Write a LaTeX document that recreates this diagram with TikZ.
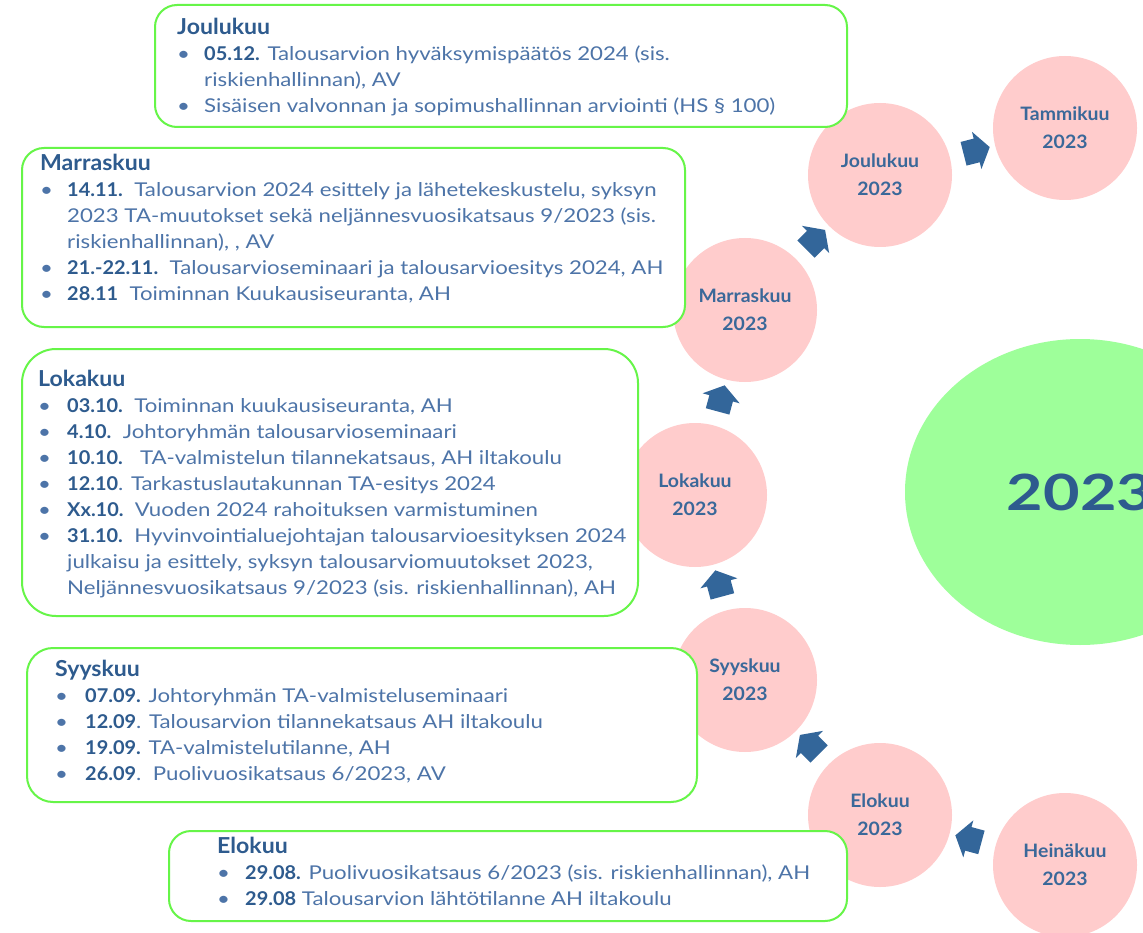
\documentclass[tikz,border=0pt]{standalone}
\usepackage{fontspec}
\setmainfont[FakeStretch=1.17, BoldFeatures={FakeStretch=1.05}]{Lato}
\usetikzlibrary{shapes.geometric,shapes.arrows}
\definecolor{pinkc}{HTML}{FFCCCC}
\definecolor{biggreen}{HTML}{9EFF9A}
\definecolor{boxgreen}{HTML}{66F548}
\definecolor{arrowc}{HTML}{33669A}
\definecolor{headc}{HTML}{2E5B8E}
\definecolor{bodyc}{HTML}{4D74A8}
\definecolor{circtext}{HTML}{3A6899}
\newcommand{\hd}[1]{\multicolumn{2}{@{}l@{}}{\color{headc}\fontsize{22}{26}\selectfont\bfseries #1}}
\newcommand{\bl}{\textbullet}
\newcommand{\dt}[1]{{\color{headc}\bfseries #1}}
\tikzset{
  monthcircle/.style={circle, fill=pinkc, minimum size=144pt, inner sep=0pt,
    align=center, text=circtext, font=\fontsize{18.5}{28}\selectfont\bfseries},
  infobox/.style={draw=boxgreen, line width=2pt, fill=white, rounded corners=22pt,
    inner sep=0pt},
  txt/.style={inner sep=0pt, text=bodyc, font=\fontsize{19}{26}\selectfont},
  blockarrow/.style={single arrow, fill=arrowc, draw=none, inner xsep=0pt,
    inner ysep=12pt, single arrow head extend=7pt, minimum height=27pt,
    single arrow tip angle=110, single arrow head indent=0pt}
}
\begin{document}
\begin{tikzpicture}[x=1pt,y=-1pt]
\useasboundingbox (0,0) rectangle (1143,933);
\clip (0,0) rectangle (1143,933);
\fill[white] (0,0) rectangle (1143,933);

% month circles
\node[monthcircle] (Tam) at (1065,128) {Tammikuu\\2023};
\node[monthcircle] (Jou) at (880,175) {Joulukuu\\2023};
\node[monthcircle] (Mar) at (745,310) {Marraskuu\\2023};
\node[monthcircle] (Lok) at (695,495) {Lokakuu\\2023};
\node[monthcircle] (Syy) at (745,680) {Syyskuu\\2023};
\node[monthcircle] (Elo) at (880,815) {Elokuu\\2023};
\node[monthcircle] (Hei) at (1065,865) {Heinäkuu\\2023};

% year ellipse
\node[ellipse, fill=biggreen, minimum width=350pt, minimum height=306pt, inner sep=0pt,
  text=headc, font=\fontsize{50}{50}\selectfont\bfseries] (year) at (1080,492)
  {\scalebox{1.2}[1]{2023}};

% block arrows
\path (Hei) -- (Elo) node[midway, sloped, allow upside down, blockarrow] (a1) {};
\path (Elo) -- (Syy) node[midway, sloped, allow upside down, blockarrow] (a2) {};
\path (Syy) -- (Lok) node[midway, sloped, allow upside down, blockarrow] (a3) {};
\path (Lok) -- (Mar) node[midway, sloped, allow upside down, blockarrow] (a4) {};
\path (Mar) -- (Jou) node[midway, sloped, allow upside down, blockarrow] (a5) {};
\path (Jou) -- (Tam) node[midway, sloped, allow upside down, blockarrow] (a6) {};

% boxes
\node[infobox, minimum width=692pt, minimum height=122pt] (bJ) at (501,66) {};
\node[infobox, minimum width=663pt, minimum height=179pt] (bM) at (353.5,237.5) {};
\node[infobox, rounded corners=34pt, minimum width=616pt, minimum height=267pt] (bL) at (330,482.5) {};
\node[infobox, rounded corners=26pt, minimum width=670pt, minimum height=154pt] (bS) at (362,725) {};
\node[infobox, minimum width=678pt, minimum height=90pt] (bE) at (508,876) {};

% box texts
\node[txt, anchor=base west] (tJ) at (177,35) {\begin{tabular}[t]{@{}p{27pt}@{}l@{}}
\hd{Joulukuu}\\
\bl & \dt{05.12.} Talousarvion hyväksymispäätös 2024 (sis.\\
    & riskienhallinnan), AV\\
\bl & Sisäisen valvonnan ja sopimushallinnan arviointi (HS § 100)
\end{tabular}};

\node[txt, anchor=base west] (tM) at (40,171) {\begin{tabular}[t]{@{}p{27pt}@{}l@{}}
\hd{Marraskuu}\\
\bl & \dt{14.11.}\ \ Talousarvion 2024 esittely ja lähetekeskustelu, syksyn\\
    & 2023 TA-muutokset sekä neljännesvuosikatsaus 9/2023 (sis.\\
    & riskienhallinnan), , AV\\
\bl & \dt{21.-22.11.}\ \ Talousarvioseminaari ja talousarvioesitys 2024, AH\\
\bl & \dt{28.11}\ \ Toiminnan Kuukausiseuranta, AH
\end{tabular}};

\node[txt, anchor=base west] (tL) at (38,386) {\begin{tabular}[t]{@{}p{29pt}@{}l@{}}
\hd{Lokakuu}\\
\bl & \dt{03.10.}\ \ Toiminnan kuukausiseuranta, AH\\
\bl & \dt{4.10.}\ \ Johtoryhmän talousarvioseminaari\\
\bl & \dt{10.10.}\ \ \ TA-valmistelun tilannekatsaus, AH iltakoulu\\
\bl & \dt{12.10}. Tarkastuslautakunnan TA-esitys 2024\\
\bl & \dt{Xx.10.}\ \ Vuoden 2024 rahoituksen varmistuminen\\
\bl & \dt{31.10.}\ \ Hyvinvointialuejohtajan talousarvioesityksen 2024\\
    & julkaisu ja esittely, syksyn talousarviomuutokset 2023,\\
    & Neljännesvuosikatsaus 9/2023 (sis. riskienhallinnan), AH
\end{tabular}};

\node[txt, anchor=base west] (tS) at (55,676) {\begin{tabular}[t]{@{}p{30pt}@{}l@{}}
\hd{Syyskuu}\\
\bl & \dt{07.09.} Johtoryhmän TA-valmisteluseminaari\\
\bl & \dt{12.09}. Talousarvion tilannekatsaus AH iltakoulu\\
\bl & \dt{19.09.} TA-valmistelutilanne, AH\\
\bl & \dt{26.09}.\ \ Puolivuosikatsaus 6/2023, AV
\end{tabular}};

\node[txt, anchor=base west] (tE) at (217,853) {\begin{tabular}[t]{@{}p{28pt}@{}l@{}}
\hd{Elokuu}\\
\bl & \dt{29.08.} Puolivuosikatsaus 6/2023 (sis. riskienhallinnan), AH\\
\bl & \dt{29.08} Talousarvion lähtötilanne AH iltakoulu
\end{tabular}};
\end{tikzpicture}
\end{document}
